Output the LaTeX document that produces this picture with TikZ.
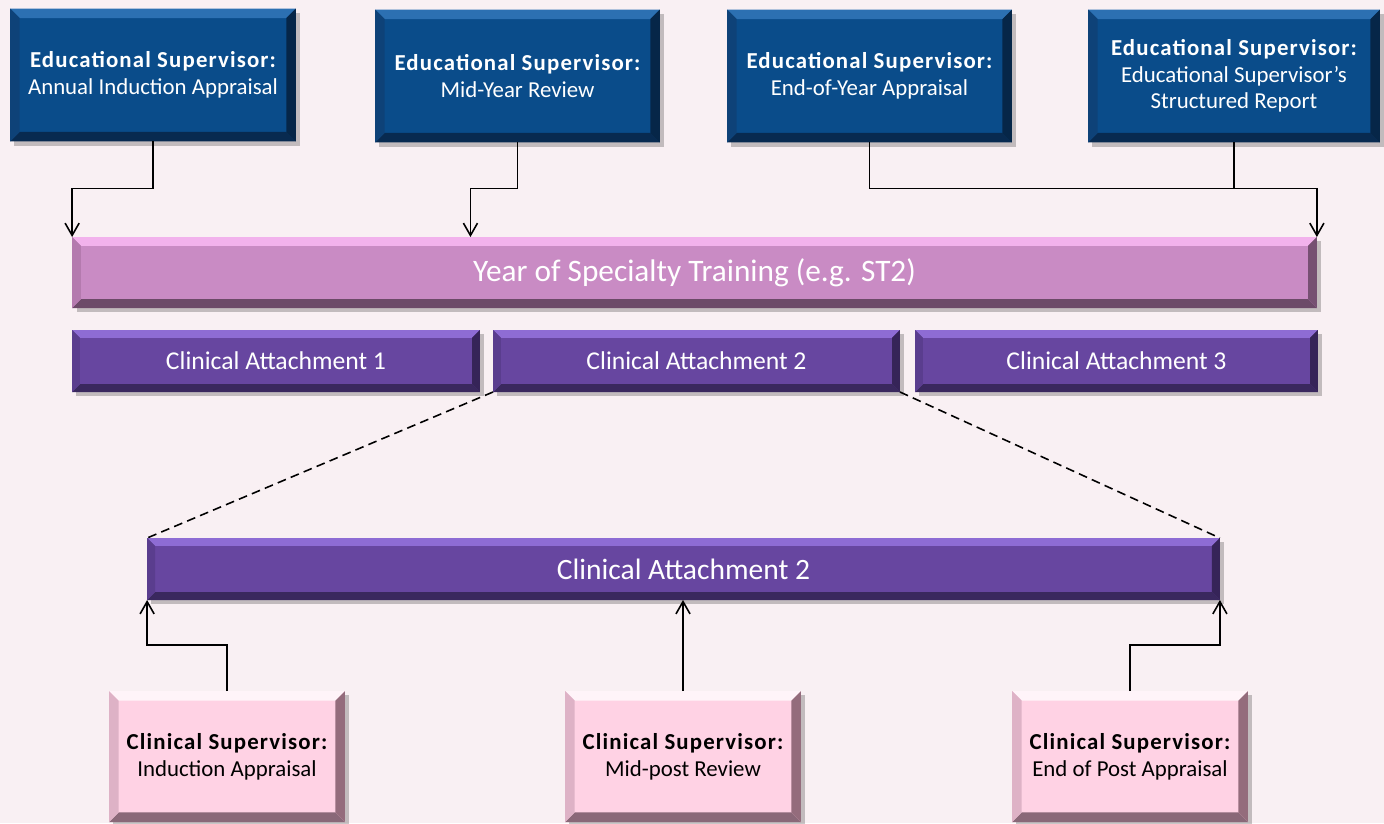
\documentclass[tikz,border=0pt]{standalone}
\usepackage{fontspec}
\setmainfont{Carlito}
\usetikzlibrary{arrows.meta,shadows,calc}
\definecolor{bgpink}{RGB}{249,240,243}
\definecolor{esfill}{RGB}{10,76,138}
\definecolor{estop}{RGB}{44,112,178}
\definecolor{esbot}{RGB}{8,42,80}
\definecolor{esleft}{RGB}{14,66,120}
\definecolor{esright}{RGB}{6,38,72}
\definecolor{yrfill}{RGB}{201,139,196}
\definecolor{yrtop}{RGB}{242,178,236}
\definecolor{yrbot}{RGB}{108,74,104}
\definecolor{yrleft}{RGB}{180,122,174}
\definecolor{yrright}{RGB}{118,80,114}
\definecolor{cafill}{RGB}{103,70,160}
\definecolor{catop}{RGB}{142,108,212}
\definecolor{cabot}{RGB}{58,40,94}
\definecolor{caleft}{RGB}{90,61,142}
\definecolor{caright}{RGB}{54,36,88}
\definecolor{csfill}{RGB}{255,210,228}
\definecolor{cstop}{RGB}{255,244,249}
\definecolor{csbot}{RGB}{138,104,120}
\definecolor{csleft}{RGB}{222,178,198}
\definecolor{csright}{RGB}{148,108,124}
\newcommand{\fsize}[1]{\fontsize{#1}{1.17\dimexpr#1pt\relax}\selectfont}
\newcommand{\hd}[1]{{\bfseries\addfontfeature{LetterSpace=5}#1}}
\newcommand{\bevelfill}[5]{%
  \coordinate (bnw) at (path picture bounding box.north west);
  \coordinate (bne) at (path picture bounding box.north east);
  \coordinate (bsw) at (path picture bounding box.south west);
  \coordinate (bse) at (path picture bounding box.south east);
  \fill[#1] (bnw) -- (bne) -- ([shift={(-#5,-#5)}]bne) -- ([shift={(#5,-#5)}]bnw) -- cycle;
  \fill[#2] (bsw) -- (bse) -- ([shift={(-#5,#5)}]bse) -- ([shift={(#5,#5)}]bsw) -- cycle;
  \fill[#3] (bnw) -- (bsw) -- ([shift={(#5,#5)}]bsw) -- ([shift={(#5,-#5)}]bnw) -- cycle;
  \fill[#4] (bne) -- (bse) -- ([shift={(-#5,#5)}]bse) -- ([shift={(-#5,-#5)}]bne) -- cycle;
}

\begin{document}
\begin{tikzpicture}[
    x = 0.02cm,
    y = -0.02cm,
    box/.style =
    { shape       = rectangle,
      align       = center,
      inner sep   = 0pt,
      outer sep   = 0pt,
      drop shadow = {shadow xshift = 2.5pt, shadow yshift = -2.5pt,
                     opacity = 0.22, fill = black} },
    esbox/.style =
    { box,
      fill             = esfill,
      text             = white,
      minimum height   = 2.66cm,
      font             = \fsize{13},
      path picture     = {\bevelfill{estop}{esbot}{esleft}{esright}{5.5pt}} },
    yearbar/.style =
    { box,
      fill             = yrfill,
      text             = white,
      minimum height   = 1.42cm,
      font             = \fsize{17.8},
      path picture     = {\bevelfill{yrtop}{yrbot}{yrleft}{yrright}{5pt}} },
    attach/.style =
    { box,
      fill             = cafill,
      text             = white,
      minimum height   = 1.24cm,
      font             = \fsize{14.6},
      path picture     = {\bevelfill{catop}{cabot}{caleft}{caright}{4.5pt}} },
    csbox/.style =
    { box,
      fill             = csfill,
      text             = black,
      minimum width    = 4.72cm,
      minimum height   = 2.62cm,
      font             = \fsize{13},
      path picture     = {\bevelfill{cstop}{csbot}{csleft}{csright}{5.5pt}} },
    link/.style =
    { -{Straight Barb[length = 7pt, width = 8pt]},
      line width = 0.9pt },
    zoomline/.style =
    { line width   = 0.9pt,
      dash pattern = on 5pt off 3pt }
  ]
  \useasboundingbox (0,0) rectangle (1384,823);
  \clip (0,0) rectangle (1384,823);
  \fill[bgpink] (0,0) rectangle (1384,823);

  % educational supervisor
  \node[esbox, minimum width = 5.72cm] (es1) at (153,75)
    {\hd{Educational Supervisor:}\\Annual Induction Appraisal};
  \node[esbox, minimum width = 5.7cm] (es2) at (517.5,76)
    {\hd{Educational Supervisor:}\\Mid-Year Review};
  \node[esbox, minimum width = 5.7cm] (es3) at (869.5,76)
    {\hd{Educational Supervisor:}\\End-of-Year Appraisal};
  \node[esbox, minimum width = 5.84cm] (es4) at (1234,76)
    {\hd{Educational Supervisor:}\\Educational Supervisor's\\Structured Report};

  % year and attachments
  \node[yearbar, minimum width = 24.9cm] (year) at (694.5,272.5)
    {Year of Specialty Training (e.g. ST2)};
  \node[attach, minimum width = 8.16cm] (ca1) at (276,361) {Clinical Attachment 1};
  \node[attach, minimum width = 8.14cm] (ca2) at (696.5,361) {Clinical Attachment 2};
  \node[attach, minimum width = 8.06cm] (ca3) at (1116.5,361) {Clinical Attachment 3};

  \node[attach, minimum width = 21.46cm, font = \fsize{16.8}] (big) at (683.5,569)
    {Clinical Attachment 2};

  % clinical supervisor
  \node[csbox] (cs1) at (227,756.5)
    {\hd{Clinical Supervisor:}\\Induction Appraisal};
  \node[csbox] (cs2) at (683,756.5)
    {\hd{Clinical Supervisor:}\\Mid-post Review};
  \node[csbox] (cs3) at (1130,756.5)
    {\hd{Clinical Supervisor:}\\End of Post Appraisal};

  \draw[link] (es1.south) -- ++(0,47) -| (year.north west);
  \draw[link] (es2.south) -- ++(0,46) -| ($(year.north west)!0.32!(year.north east)$);
  \draw[link] (es3.south) -- ++(0,46) -| (year.north east);
  \draw[line width = 0.9pt] (es4.south) -- ++(0,46);

  \draw[zoomline] (ca2.south west) -- (big.north west);
  \draw[zoomline] (ca2.south east) -- (big.north east);

  \draw[link] (cs1.north) -- ++(0,-46) -| (big.south west);
  \draw[link] (cs2.north) -- (cs2.north |- big.south);
  \draw[link] (cs3.north) -- ++(0,-46) -| (big.south east);
\end{tikzpicture}
\end{document}
